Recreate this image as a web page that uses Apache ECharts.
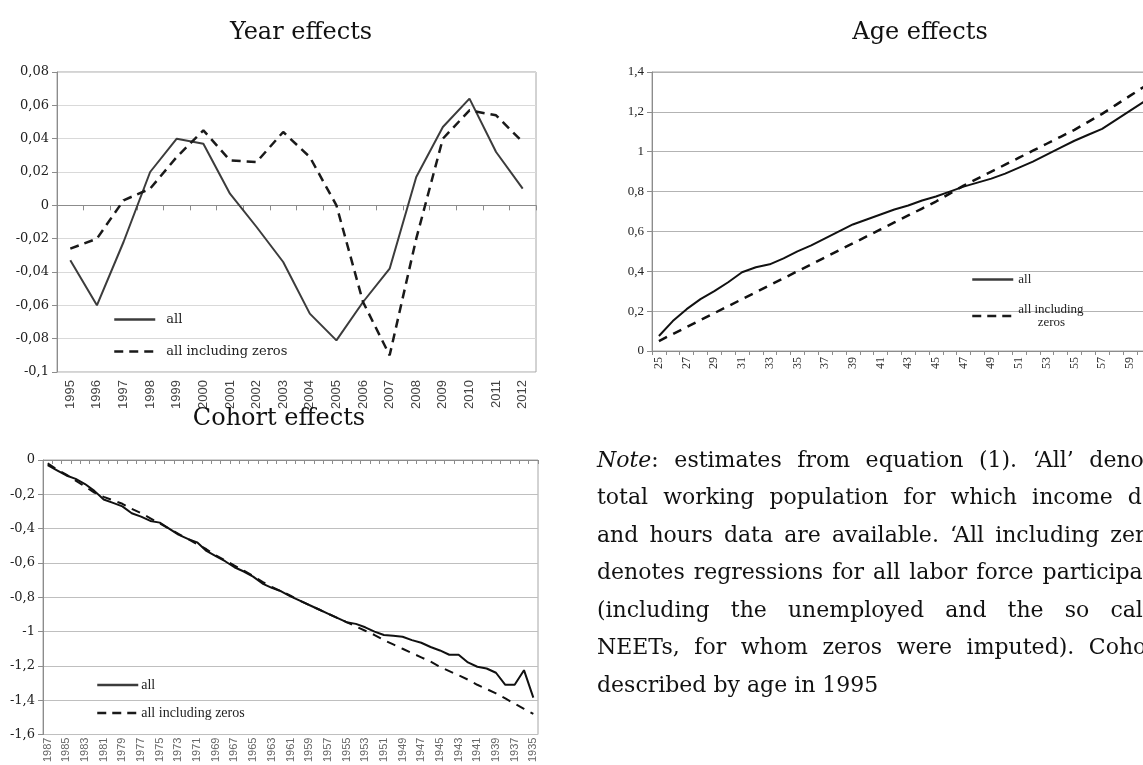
<!DOCTYPE html>
<html>
<head>
<meta charset="utf-8">
<script src="https://cdn.jsdelivr.net/npm/echarts@6/dist/echarts.min.js"></script>
<style>
html, body { margin: 0; padding: 0; background: #fff; overflow: hidden; width: 1143px; height: 765px; }
#chart { width: 1300px; height: 765px; }
</style>
</head>
<body>
<div id="chart"></div>
<script>
// ---- Year effects ----
const yearCats = ['1995','1996','1997','1998','1999','2000','2001','2002','2003','2004','2005','2006','2007','2008','2009','2010','2011','2012'];
const yearAll = [-0.033,-0.060,-0.022,0.020,0.040,0.037,0.007,-0.013,-0.034,-0.065,-0.081,-0.058,-0.038,0.017,0.047,0.064,0.032,0.010];
const yearZeros = [-0.026,-0.020,0.003,0.010,0.029,0.045,0.027,0.026,0.044,0.029,0.000,-0.058,-0.090,-0.020,0.040,0.057,0.054,0.038];

// ---- Age effects ----
const ageCats = ['25','26','27','28','29','30','31','32','33','34','35','36','37','38','39','40','41','42','43','44',
                 '45','46','47','48','49','50','51','52','53','54','55','56','57','58','59','60','61','62','63','64'];
const ageAll = [0.075,0.15,0.21,0.26,0.30,0.345,0.395,0.42,0.435,0.465,0.50,0.53,0.565,0.60,0.635,0.66,0.685,0.71,0.73,0.755,
                0.775,0.80,0.825,0.845,0.865,0.89,0.92,0.95,0.985,1.02,1.055,1.085,1.115,1.16,1.205,1.25,1.29];
const ageZeros = [0.05,0.085,0.12,0.155,0.19,0.225,0.26,0.295,0.33,0.365,0.40,0.435,0.47,0.505,0.54,0.575,0.61,0.645,0.68,0.715,
                  0.75,0.79,0.83,0.865,0.90,0.935,0.97,1.005,1.04,1.075,1.11,1.15,1.19,1.235,1.28,1.325,1.37];

// ---- Cohort effects ----
const cohortCats = ['1987','1986','1985','1984','1983','1982','1981','1980','1979','1978','1977','1976','1975','1974','1973','1972','1971','1970',
                    '1969','1968','1967','1966','1965','1964','1963','1962','1961','1960','1959','1958','1957','1956','1955','1954','1953','1952',
                    '1951','1950','1949','1948','1947','1946','1945','1944','1943','1942','1941','1940','1939','1938','1937','1936','1935'];
const cohortAll = [-0.03,-0.06,-0.09,-0.11,-0.14,-0.18,-0.23,-0.25,-0.27,-0.31,-0.33,-0.355,-0.365,-0.40,-0.435,-0.46,-0.48,-0.53,
                   -0.56,-0.59,-0.625,-0.65,-0.68,-0.72,-0.745,-0.765,-0.795,-0.82,-0.845,-0.87,-0.895,-0.92,-0.945,-0.955,-0.975,-1.0,
                   -1.02,-1.025,-1.03,-1.05,-1.065,-1.09,-1.11,-1.135,-1.135,-1.18,-1.205,-1.215,-1.24,-1.31,-1.31,-1.225,-1.385];
const cohortZeros = [-0.02,-0.055,-0.085,-0.12,-0.155,-0.19,-0.215,-0.235,-0.255,-0.285,-0.31,-0.34,-0.37,-0.40,-0.43,-0.46,-0.49,-0.52,
                     -0.555,-0.585,-0.615,-0.645,-0.675,-0.71,-0.74,-0.765,-0.79,-0.82,-0.845,-0.87,-0.895,-0.92,-0.945,-0.97,-0.995,-1.02,
                     -1.05,-1.075,-1.10,-1.125,-1.15,-1.175,-1.205,-1.23,-1.255,-1.28,-1.31,-1.335,-1.36,-1.39,-1.42,-1.45,-1.48];

const seriesNames = ['all', 'all including zeros'];

// Note beneath the age panel, one entry per printed (justified) line
const noteLines = [
  'Note: estimates from equation (1). \u2018All\u2019 denotes',
  'total working population for which income data',
  'and hours data are available. \u2018All including zeros\u2019',
  'denotes regressions for all labor force participants',
  '(including the unemployed and the so called',
  'NEETs, for whom zeros were imputed). Cohorts',
  'described by age in 1995'
];

const SERIF = '"DejaVu Serif", serif';
const TIMES = '"Liberation Serif", serif';
const SANS = '"Liberation Sans", sans-serif';

function comma(v) {
  const r = Math.round(v * 1000) / 1000;
  return (r === 0 ? '0' : String(r)).replace('.', ',');
}

function valueAxis(gridIndex, min, max, interval, font, gridColor) {
  return {
    type: 'value', gridIndex, min, max, interval,
    axisLine: { show: true, lineStyle: { color: '#8c8c8c', width: 1 } },
    axisTick: { show: true, length: 5, lineStyle: { color: '#8c8c8c' } },
    splitLine: { show: true, lineStyle: { color: gridColor, width: 1 } },
    axisLabel: { formatter: comma, color: '#222', fontFamily: font, fontSize: 13, margin: 8 }
  };
}

function catAxis(gridIndex, data, labelOpt) {
  return Object.assign({
    type: 'category', gridIndex, data, boundaryGap: true,
    axisLine: { show: true, onZero: true, lineStyle: { color: '#8c8c8c', width: 1 } },
    axisTick: { show: true, length: 5, lineStyle: { color: '#8c8c8c' } },
    splitLine: { show: false }
  }, labelOpt);
}

function solid(name, x, data, color) {
  return { type: 'line', name, xAxisIndex: x, yAxisIndex: x, data, symbol: 'none', silent: true,
           lineStyle: { color, width: 2 }, itemStyle: { color } };
}
function dashed(name, x, data, color, dash, width) {
  return { type: 'line', name, xAxisIndex: x, yAxisIndex: x, data, symbol: 'none', silent: true,
           lineStyle: { color, width, type: dash }, itemStyle: { color } };
}

// Justified note text, laid out word by word
const NOTE_FONT_SIZE = 22;
const NOTE_LEFT = 597;
const NOTE_TOP = 461;
const NOTE_LINE_H = 37.5;
const NOTE_WIDTH = 580;
const measureCtx = document.createElement('canvas').getContext('2d');
function textW(str, font) { measureCtx.font = font; return measureCtx.measureText(str).width; }

function buildNote() {
  const els = [];
  const regular = NOTE_FONT_SIZE + 'px ' + SERIF;
  const italic = 'italic ' + NOTE_FONT_SIZE + 'px ' + SERIF;
  const minGap = textW(' ', regular) * 0.6;
  noteLines.forEach((line, li) => {
    const words = line.split(' ');
    const pieces = words.map((w, wi) => {
      if (li === 0 && wi === 0) {
        return [{ t: 'Note', font: italic }, { t: w.slice(4), font: regular }];
      }
      return [{ t: w, font: regular }];
    });
    const widths = pieces.map(p => p.reduce((s, q) => s + textW(q.t, q.font), 0));
    const total = widths.reduce((a, b) => a + b, 0);
    const last = li === noteLines.length - 1;
    const gap = last ? textW(' ', regular) : Math.max(minGap, (NOTE_WIDTH - total) / (words.length - 1));
    let x = NOTE_LEFT;
    const y = NOTE_TOP + li * NOTE_LINE_H;
    pieces.forEach((p, pi) => {
      let px = x;
      p.forEach(q => {
        els.push({ type: 'text', x: px, y, silent: true,
                   style: { text: q.t, font: q.font, fill: '#111', verticalAlign: 'middle', align: 'left' } });
        px += textW(q.t, q.font);
      });
      x += widths[pi] + gap;
    });
  });
  return els;
}

const chart = echarts.init(document.getElementById('chart'), null, { renderer: 'canvas' });

const titleStyle = { fontFamily: SERIF, fontWeight: 'normal', fontSize: 24, color: '#111' };
const legendBase = { orient: 'vertical', itemWidth: 41, itemHeight: 14, selectedMode: false, data: seriesNames,
                     itemStyle: { opacity: 0 },
                     lineStyle: { width: 2.5, color: 'inherit', type: 'inherit' } };

const option = {
  backgroundColor: '#ffffff',
  animation: false,
  title: [
    { text: 'Year effects', left: 296, top: 16, textAlign: 'center', textStyle: titleStyle },
    { text: 'Age effects', left: 915, top: 16, textAlign: 'center', textStyle: titleStyle },
    { text: 'Cohort effects', left: 274, top: 402, textAlign: 'center', textStyle: titleStyle }
  ],
  grid: [
    { left: 57, top: 72, width: 479, height: 300, show: true, borderColor: '#a6a6a6', borderWidth: 1 },
    { left: 652, top: 72, width: 554, height: 279, show: true, borderColor: '#a6a6a6', borderWidth: 1 },
    { left: 43, top: 460, width: 495, height: 300, show: true, borderColor: '#a6a6a6', borderWidth: 1 }
  ],
  legend: [
    Object.assign({}, legendBase, { left: 108, top: 308, itemGap: 19,
      textStyle: { fontFamily: SERIF, fontSize: 13, color: '#222', padding: [0, 0, 0, 6] } }),
    Object.assign({}, legendBase, { left: 966, top: 268, itemGap: 17,
      formatter: n => n === 'all' ? n : 'all including\n      zeros',
      textStyle: { fontFamily: TIMES, fontSize: 13, color: '#222', lineHeight: 13 } }),
    Object.assign({}, legendBase, { left: 91, top: 673, itemGap: 14,
      textStyle: { fontFamily: TIMES, fontSize: 14, color: '#222', padding: [0, 0, 0, -2] } })
  ],
  xAxis: [
    catAxis(0, yearCats, { axisLabel: { rotate: 90, interval: 0, fontFamily: SANS, fontSize: 13, color: '#444', margin: 8 } }),
    catAxis(1, ageCats, { axisLabel: { rotate: 90, interval: 1, fontFamily: TIMES, fontSize: 12, color: '#333', margin: 6 },
                          axisTick: { show: true, interval: 0, length: 4, lineStyle: { color: '#8c8c8c' } } }),
    catAxis(2, cohortCats, { axisLabel: { rotate: 90, interval: 1, fontFamily: SANS, fontSize: 11, color: '#666', margin: 3 },
                             axisTick: { show: true, interval: 0, length: 4, lineStyle: { color: '#8c8c8c' } } })
  ],
  yAxis: [
    valueAxis(0, -0.1, 0.08, 0.02, SERIF, '#d9d9d9'),
    valueAxis(1, 0, 1.4, 0.2, TIMES, '#b3b3b3'),
    valueAxis(2, -1.6, 0, 0.2, SERIF, '#bfbfbf')
  ],
  series: [
    solid('all', 0, yearAll, '#3c3c3c'),
    dashed('all including zeros', 0, yearZeros, '#1a1a1a', [9, 6], 2.5),
    solid('all', 1, ageAll, '#111'),
    dashed('all including zeros', 1, ageZeros, '#111', [9, 7], 2.5),
    solid('all', 2, cohortAll, '#111'),
    dashed('all including zeros', 2, cohortZeros, '#111', [9, 7], 2)
  ],
  graphic: buildNote()
};

chart.setOption(option);
</script>
</body>
</html>
